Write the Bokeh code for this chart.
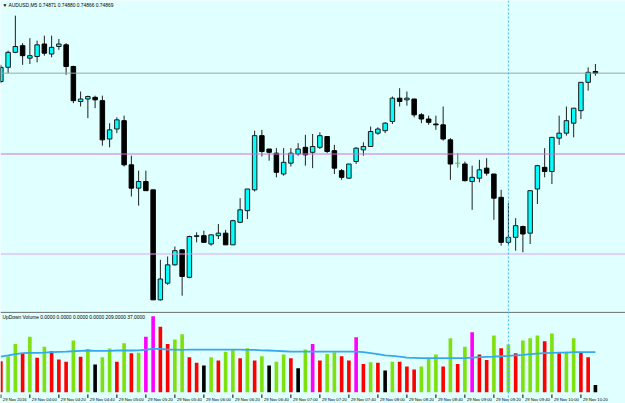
from bokeh.plotting import figure
from bokeh.layouts import column
from bokeh.models import Range1d, Span, Label, ColumnDataSource
from bokeh.embed import file_html
from bokeh.resources import INLINE
from bokeh.core.properties import value

# ---------------- data ----------------
symbol = "AUDUSD,M5"
header_values = "0.74871 0.74880 0.74866 0.74869"
vol_header = "UpDown Volume 0.0000 0.0000 0.0000 0.0000 209.0000 37.0000"

opens = [0.74859, 0.74876, 0.74894, 0.74902, 0.74887, 0.74889, 0.74904, 0.74892, 0.74901, 0.74903,
         0.74877, 0.74835, 0.74838, 0.74840, 0.74836, 0.74790, 0.74802, 0.74812, 0.74759, 0.74731,
         0.74739, 0.74729, 0.74597, 0.74617, 0.74639, 0.74657, 0.74624, 0.74673, 0.74674, 0.74664,
         0.74674, 0.74677, 0.74663, 0.74690, 0.74704, 0.74729, 0.74794, 0.74778, 0.74773, 0.74748,
         0.74761, 0.74772, 0.74780, 0.74774, 0.74780, 0.74793, 0.74776, 0.74752, 0.74743, 0.74763,
         0.74777, 0.74781, 0.74797, 0.74800, 0.74811, 0.74839, 0.74837, 0.74838, 0.74819, 0.74814,
         0.74808, 0.74807, 0.74789, 0.74761, 0.74760, 0.74739, 0.74743, 0.74755, 0.74748, 0.74720,
         0.74666, 0.74672, 0.74685, 0.74677, 0.74730, 0.74756, 0.74751, 0.74791, 0.74797, 0.74809,
         0.74824, 0.74858, 0.74871]
highs = [0.74879, 0.74896, 0.74938, 0.74905, 0.74911, 0.74908, 0.74914, 0.74914, 0.74910, 0.74905,
         0.74878, 0.74847, 0.74842, 0.74842, 0.74842, 0.74809, 0.74816, 0.74818, 0.74770, 0.74752,
         0.74752, 0.74729, 0.74645, 0.74649, 0.74661, 0.74657, 0.74674, 0.74678, 0.74680, 0.74675,
         0.74688, 0.74681, 0.74693, 0.74719, 0.74730, 0.74800, 0.74801, 0.74778, 0.74779, 0.74779,
         0.74779, 0.74785, 0.74795, 0.74796, 0.74798, 0.74793, 0.74783, 0.74754, 0.74760, 0.74780,
         0.74786, 0.74805, 0.74804, 0.74810, 0.74841, 0.74851, 0.74847, 0.74838, 0.74821, 0.74818,
         0.74818, 0.74829, 0.74791, 0.74773, 0.74763, 0.74758, 0.74765, 0.74767, 0.74748, 0.74729,
         0.74713, 0.74695, 0.74686, 0.74728, 0.74759, 0.74779, 0.74792, 0.74818, 0.74829, 0.74827,
         0.74858, 0.74876, 0.74880]
lows = [0.74857, 0.74869, 0.74893, 0.74879, 0.74880, 0.74882, 0.74890, 0.74888, 0.74897, 0.74867,
        0.74833, 0.74829, 0.74815, 0.74827, 0.74782, 0.74780, 0.74797, 0.74757, 0.74721, 0.74710,
        0.74728, 0.74597, 0.74596, 0.74615, 0.74638, 0.74602, 0.74623, 0.74666, 0.74666, 0.74662,
        0.74670, 0.74663, 0.74663, 0.74689, 0.74694, 0.74727, 0.74769, 0.74764, 0.74744, 0.74746,
        0.74757, 0.74770, 0.74758, 0.74755, 0.74778, 0.74773, 0.74748, 0.74741, 0.74742, 0.74760,
        0.74770, 0.74781, 0.74795, 0.74797, 0.74808, 0.74829, 0.74830, 0.74816, 0.74809, 0.74807,
        0.74801, 0.74788, 0.74741, 0.74756, 0.74739, 0.74705, 0.74738, 0.74746, 0.74693, 0.74662,
        0.74663, 0.74656, 0.74654, 0.74664, 0.74712, 0.74744, 0.74736, 0.74783, 0.74794, 0.74792,
        0.74814, 0.74848, 0.74866]
closes = [0.74876, 0.74894, 0.74901, 0.74890, 0.74890, 0.74903, 0.74893, 0.74900, 0.74904, 0.74877,
          0.74836, 0.74838, 0.74841, 0.74837, 0.74789, 0.74801, 0.74813, 0.74759, 0.74731, 0.74739,
          0.74728, 0.74597, 0.74622, 0.74639, 0.74656, 0.74625, 0.74673, 0.74674, 0.74666, 0.74675,
          0.74677, 0.74663, 0.74692, 0.74705, 0.74730, 0.74794, 0.74775, 0.74774, 0.74750, 0.74762,
          0.74773, 0.74778, 0.74771, 0.74781, 0.74794, 0.74775, 0.74755, 0.74744, 0.74760, 0.74779,
          0.74781, 0.74799, 0.74802, 0.74809, 0.74839, 0.74835, 0.74839, 0.74819, 0.74814, 0.74810,
          0.74807, 0.74790, 0.74760, 0.74761, 0.74740, 0.74744, 0.74753, 0.74749, 0.74719, 0.74666,
          0.74672, 0.74686, 0.74676, 0.74728, 0.74758, 0.74751, 0.74792, 0.74797, 0.74812, 0.74827,
          0.74858, 0.74870, 0.74869]

volumes = [161, 187, 251, 199, 289, 179, 237, 213, 170, 159,
           269, 185, 225, 144, 182, 227, 159, 255, 203, 205,
           289, 395, 341, 251, 274, 302, 182, 153, 139, 182,
           165, 211, 225, 177, 229, 165, 187, 139, 159, 196,
           177, 125, 222, 251, 165, 199, 208, 187, 165, 286,
           147, 156, 153, 113, 159, 158, 133, 118, 133, 173,
           196, 133, 281, 147, 237, 312, 196, 168, 295, 229,
           248, 203, 269, 281, 295, 265, 305, 203, 211, 281,
           208, 182, 37]
vol_types = ["dn", "up", "up", "dn", "up", "dn", "up", "dn", "dn", "dn",
             "up", "dn", "up", "low", "up", "up", "dn", "up", "dn", "up",
             "spike", "spike", "dn", "dn", "up", "up", "dn", "dn", "low", "up",
             "dn", "up", "up", "dn", "up", "dn", "up", "low", "up", "up",
             "dn", "low", "up", "spike", "dn", "up", "up", "dn", "dn", "spike",
             "dn", "up", "dn", "low", "up", "dn", "dn", "dn", "up", "up",
             "up", "dn", "up", "dn", "up", "spike", "dn", "dn", "up", "dn",
             "up", "dn", "up", "up", "up", "dn", "up", "dn", "up", "up",
             "dn", "dn", "low"]
vol_ma = [185, 191, 198, 203, 205, 205, 206, 208, 210, 211,
          213, 215, 217, 215, 215, 215, 217, 217, 217, 218,
          222, 225, 225, 222, 222, 220, 222, 222, 222, 222,
          222, 222, 222, 222, 220, 220, 218, 217, 215, 213,
          211, 211, 211, 211, 211, 211, 211, 211, 211, 211,
          208, 203, 198, 192, 189, 185, 180, 179, 177, 177,
          177, 177, 177, 177, 177, 180, 182, 184, 185, 187,
          189, 192, 194, 198, 201, 203, 205, 206, 206, 208,
          208, 208, 209]

tick_bars = [0, 4, 8, 12, 16, 20, 24, 28, 32, 36, 40, 44, 48, 52, 56, 60, 64, 68, 72, 76, 80]
tick_labels = ["29 Nov 2016", "29 Nov 04:00", "29 Nov 04:20", "29 Nov 04:40", "29 Nov 05:00",
               "29 Nov 05:20", "29 Nov 05:40", "29 Nov 06:00", "29 Nov 06:20", "29 Nov 06:40",
               "29 Nov 07:00", "29 Nov 07:20", "29 Nov 07:40", "29 Nov 08:00", "29 Nov 08:20",
               "29 Nov 08:40", "29 Nov 09:00", "29 Nov 09:20", "29 Nov 09:40", "29 Nov 10:00",
               "29 Nov 10:20"]

level_prices = [0.74869, 0.74772, 0.74652]
level_colors = ["#9aa6a8", "#d070d8", "#dca6ee"]
cursor_bar = 70

# ---------------- styling ----------------
BG = "#E0FFFF"
UP_FILL = "#00FFFF"
VOL_COLORS = {"up": "#7FE010", "dn": "#FF0000", "low": "#000000", "spike": "#FF00FF"}
FONT = "Liberation Sans"

n = len(opens)
xs = list(range(n))
x_range = Range1d(-0.05, 86.15)

# ---------------- main price panel ----------------
p1 = figure(width=625, height=311, output_backend="svg", toolbar_location=None,
            x_range=x_range, y_range=Range1d(0.745830, 0.749562),
            min_border=0, background_fill_color=BG, border_fill_color=BG)
p1.axis.visible = False
p1.grid.visible = False
p1.outline_line_color = None

for lp, lc in zip(level_prices, level_colors):
    p1.add_layout(Span(location=lp, dimension="width", line_color=lc, line_width=1))

up_idx = [i for i in xs if closes[i] > opens[i]]
dn_idx = [i for i in xs if closes[i] < opens[i]]
dj_idx = [i for i in xs if closes[i] == opens[i]]

p1.segment(x0=xs, y0=highs, x1=xs, y1=lows, line_color="#202020", line_width=1)

up_src = ColumnDataSource(dict(x=up_idx, top=[closes[i] for i in up_idx], bottom=[opens[i] for i in up_idx]))
dn_src = ColumnDataSource(dict(x=dn_idx, top=[opens[i] for i in dn_idx], bottom=[closes[i] for i in dn_idx]))
p1.vbar(x="x", top="top", bottom="bottom", width=0.62, source=up_src,
        fill_color=UP_FILL, line_color="#1a1a1a", line_width=1)
p1.vbar(x="x", top="top", bottom="bottom", width=0.62, source=dn_src,
        fill_color="#000000", line_color="#000000", line_width=1)
if dj_idx:
    p1.segment(x0=[i - 0.35 for i in dj_idx], y0=[opens[i] for i in dj_idx],
               x1=[i + 0.35 for i in dj_idx], y1=[opens[i] for i in dj_idx],
               line_color="#33dd33", line_width=1)
    p1.segment(x0=dj_idx, y0=[highs[i] for i in dj_idx], x1=dj_idx, y1=[lows[i] for i in dj_idx],
               line_color="#33dd33", line_width=1)

p1.add_layout(Span(location=cursor_bar, dimension="height", line_color="#44b8ec",
                   line_width=1, line_dash="2 2"))

p1.add_layout(Label(x=2, y=306, x_units="screen", y_units="screen", text="\u25bc",
                    text_font=FONT, text_font_size="4.8px", text_color="#000000",
                    text_baseline="middle"))
p1.add_layout(Label(x=8, y=306, x_units="screen", y_units="screen",
                    text=symbol + "  " + header_values,
                    text_font=FONT, text_font_size="4.9px", text_color="#000000",
                    text_baseline="middle"))

# ---------------- volume panel ----------------
p2 = figure(width=625, height=92, output_backend="svg", toolbar_location=None,
            x_range=x_range, y_range=Range1d(-59, 420),
            min_border=0, background_fill_color=BG, border_fill_color=BG)
p2.axis.visible = False
p2.grid.visible = False
p2.outline_line_color = None

p2.add_layout(Span(location=416, dimension="width", line_color="#555555", line_width=1.2))

vsrc = ColumnDataSource(dict(x=xs, top=volumes, color=[VOL_COLORS[t] for t in vol_types]))
p2.vbar(x="x", top="top", bottom=0, width=0.5, source=vsrc, fill_color="color", line_color=None)
p2.line(xs, vol_ma, line_color="#33aaee", line_width=1.8)

p2.add_layout(Span(location=cursor_bar, dimension="height", line_color="#44b8ec",
                   line_width=1, line_dash="2 2"))

p2.add_layout(Label(x=2, y=86, x_units="screen", y_units="screen", text=vol_header,
                    text_font=FONT, text_font_size="4.9px", text_color="#000000",
                    text_baseline="middle"))

p2.segment(x0=tick_bars, y0=[-12] * len(tick_bars), x1=tick_bars, y1=[-30] * len(tick_bars),
           line_color="#000000", line_width=1)
p2.text(x=tick_bars, y=[-40] * len(tick_bars), text=tick_labels, x_offset=2,
        text_font=value(FONT), text_font_size="4.2px", text_color="#000000",
        text_align="left", text_baseline="middle")

layout = column(p1, p2, spacing=0)
open("out.html", "w").write(file_html(layout, INLINE))
